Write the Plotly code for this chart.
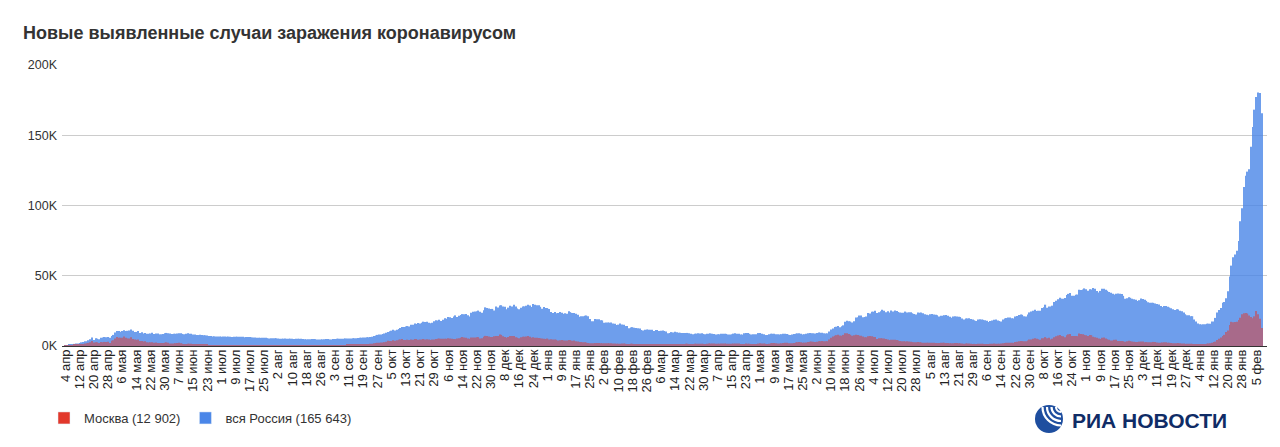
import pandas as pd
import plotly.graph_objects as go

# Новые случаи за сутки, тыс. Ряд начинается 4 апреля 2020, одна строка = один месяц
start_date = "2020-04-04"

russia_2020 = [
    0.6, 0.7, 1.0, 1.2, 1.2, 1.5, 1.8, 1.7, 2.2, 2.6, 2.8, 3.4, 3.4, 4.1, 4.8, 6.1, 4.3, 5.6, 5.2, 4.8, 5.8, 6.0, 6.4, 6.2, 6.4, 5.8, 7.1,
    7.9, 9.6, 10.6, 10.6, 10.1, 10.6, 11.2, 10.7, 10.8, 11.0, 11.7, 10.9, 10.0, 10.0, 10.6, 9.2, 9.7, 8.9, 9.3, 8.8, 8.8, 8.9, 9.4, 8.6, 8.9, 8.9, 8.3, 8.4, 8.6, 9.0, 9.3,
    9.0, 8.9, 8.5, 8.8, 8.7, 8.9, 9.0, 9.0, 8.6, 8.4, 8.8, 9.0, 8.7, 8.8, 8.2, 8.2, 7.8, 7.8, 8.0, 7.9, 7.7, 7.6, 7.4, 7.2, 7.1, 6.8, 6.9, 6.8, 6.7, 6.7,
    6.6, 6.8, 6.7, 6.6, 6.7, 6.6, 6.4, 6.6, 6.5, 6.6, 6.6, 6.6, 6.5, 6.2, 6.4, 6.4, 6.4, 6.2, 6.1, 6.1, 5.8, 5.9, 5.8, 5.8, 5.9, 5.8, 5.6, 5.4, 5.5, 5.5, 5.5,
    5.5, 5.4, 5.2, 5.2, 5.2, 5.3, 5.2, 5.2, 5.2, 5.1, 4.9, 5.1, 5.1, 5.1, 5.1, 5.0, 4.8, 4.7, 4.8, 4.8, 4.9, 4.9, 4.9, 4.7, 4.7, 4.7, 4.7, 4.8, 5.0, 4.9, 4.7,
    4.7, 5.0, 5.0, 5.1, 5.2, 5.2, 5.2, 5.1, 5.4, 5.4, 5.4, 5.4, 5.5, 5.5, 5.6, 5.7, 5.8, 5.9, 6.1, 6.1, 6.2, 6.2, 6.4, 6.6, 7.2, 7.5, 7.9, 8.1, 8.2, 8.5,
    8.9, 9.4, 9.9, 10.5, 10.9, 11.6, 11.1, 11.5, 12.1, 12.8, 13.6, 13.6, 13.9, 14.2, 13.8, 15.2, 15.1, 16.0, 15.7, 16.3, 16.0, 16.5, 17.3, 17.0, 17.3, 16.6, 16.2, 16.6, 17.7, 18.3, 18.1,
    18.7, 17.8, 18.6, 19.8, 19.4, 20.6, 20.5, 19.9, 21.0, 21.8, 20.6, 21.6, 22.0, 22.7, 22.6, 22.8, 21.8, 21.0, 23.6, 24.3, 24.6, 24.8, 25.2, 24.3, 23.7, 25.5, 27.5, 27.1, 26.7, 26.3,
    26.4, 25.3, 28.1, 27.4, 28.8, 29.0, 28.1, 27.9, 26.1, 27.3, 28.6, 28.1, 29.4, 28.1, 26.7, 26.2, 27.2, 28.2, 28.2, 28.6, 29.4, 28.9, 27.8, 29.9, 29.3, 29.0, 29.0, 27.9, 26.5, 27.7, 27.0,
]
russia_2021 = [
    27.0, 26.3, 24.2, 23.4, 24.2, 23.3, 23.5, 24.2, 23.7, 22.9, 23.3, 22.9, 24.8, 24.1, 23.5, 23.5, 22.9, 22.3, 20.8, 21.2, 21.1, 21.5, 21.7, 21.1, 19.3, 17.7, 17.6, 19.2, 19.0, 19.1, 18.4,
    18.2, 16.6, 16.7, 16.7, 16.6, 16.7, 16.0, 15.9, 14.9, 15.2, 16.1, 15.3, 15.1, 14.2, 14.2, 12.7, 13.2, 13.4, 13.0, 12.8, 12.6, 12.4, 11.4, 11.0, 11.5, 11.7, 11.6, 11.5,
    11.6, 10.6, 11.4, 11.4, 10.6, 10.9, 11.0, 10.7, 10.4, 9.1, 9.3, 9.9, 9.6, 10.2, 9.7, 9.4, 9.4, 9.2, 9.2, 9.3, 9.3, 9.0, 8.7, 8.3, 8.7, 8.8, 9.1, 8.9, 9.0, 8.6, 8.3,
    8.8, 8.8, 9.0, 8.7, 8.6, 8.2, 8.3, 8.3, 8.7, 8.8, 8.7, 8.6, 8.1, 8.2, 8.3, 8.8, 9.0, 8.7, 8.7, 8.2, 8.1, 9.0, 9.3, 9.3, 8.7, 8.1, 8.3, 8.3, 8.4, 9.2,
    9.3, 8.7, 8.4, 7.8, 7.8, 8.3, 8.7, 8.7, 8.8, 8.4, 8.3, 8.1, 8.4, 8.8, 8.8, 8.5, 8.1, 7.9, 8.2, 8.5, 8.8, 9.0, 9.0, 8.8, 8.2, 8.4, 8.7, 9.0, 9.3, 9.1, 9.1,
    8.9, 9.3, 9.6, 9.4, 9.4, 9.1, 8.9, 9.0, 10.4, 11.7, 12.5, 13.5, 13.7, 14.2, 13.4, 14.1, 14.7, 17.3, 17.9, 17.6, 17.4, 16.7, 17.6, 20.2, 20.4, 21.7, 21.7, 20.5, 20.6, 21.0,
    23.5, 23.2, 24.4, 24.4, 25.1, 23.4, 24.0, 24.8, 25.8, 25.1, 24.1, 24.7, 23.8, 25.2, 24.5, 25.3, 25.0, 24.2, 23.8, 23.6, 23.7, 24.5, 23.9, 24.1, 24.1, 23.3, 22.8, 22.4, 23.8, 23.6, 23.8,
    23.3, 22.6, 22.2, 21.9, 22.6, 22.8, 22.4, 22.2, 21.9, 21.0, 21.6, 21.6, 21.9, 22.0, 21.6, 20.8, 20.1, 21.0, 21.1, 21.0, 20.8, 20.6, 19.6, 18.8, 19.5, 19.6, 19.7, 19.3, 18.9, 18.3, 17.8,
    18.8, 19.0, 18.9, 18.6, 18.3, 17.9, 17.1, 17.8, 18.2, 18.6, 18.8, 18.2, 17.8, 17.5, 18.8, 19.6, 19.9, 20.2, 20.3, 19.7, 19.6, 21.0, 21.4, 22.1, 22.4, 22.2, 21.2, 21.0, 22.4, 23.9,
    24.5, 25.1, 25.8, 24.9, 25.1, 25.1, 27.0, 27.6, 29.4, 27.2, 28.2, 28.2, 28.7, 31.3, 32.2, 33.2, 34.3, 33.7, 33.7, 34.1, 36.3, 37.1, 37.7, 35.7, 35.7, 36.4, 36.6, 40.1, 39.8, 40.3, 41.0,
    40.4, 39.4, 40.4, 40.2, 41.3, 40.7, 39.2, 38.1, 39.2, 40.8, 40.8, 40.1, 39.3, 38.4, 37.9, 37.1, 36.6, 37.2, 37.4, 37.1, 37.0, 35.7, 33.6, 33.9, 34.7, 34.3, 33.6, 33.2, 32.9, 32.1,
    32.6, 33.8, 33.4, 32.9, 32.1, 31.1, 30.8, 30.8, 30.7, 30.2, 29.9, 29.6, 28.5, 27.7, 28.4, 28.5, 28.0, 27.4, 26.8, 26.2, 25.6, 26.2, 26.0, 25.1, 24.7, 23.9, 22.6, 21.9, 21.9, 21.1, 21.2,
]
russia_2022 = [
    18.9, 17.5, 16.1, 15.4, 15.3, 15.4, 15.4, 15.8, 15.9, 15.9, 17.5, 17.5, 20.0, 23.8, 25.7, 27.0, 30.7, 31.3, 33.9, 38.9, 49.5, 57.2, 63.2, 65.1, 67.8, 74.7, 88.8, 98.0, 113.1, 121.2, 124.1,
    125.8, 141.9, 155.8, 168.2, 177.3, 180.5, 180.1, 165.6,
]

moscow_2020 = [
    0.5, 0.5, 0.7, 0.7, 0.7, 1.0, 1.1, 1.1, 1.4, 1.4, 1.5, 1.8, 1.9, 2.2, 2.6, 3.6, 2.5, 2.7, 2.6, 2.2, 2.8, 2.7, 2.9, 2.9, 3.1, 2.2, 3.7,
    4.1, 5.4, 6.4, 5.8, 5.9, 5.9, 6.7, 5.8, 5.4, 5.4, 6.2, 5.0, 4.7, 4.4, 4.7, 3.5, 3.5, 3.2, 3.3, 2.6, 2.5, 2.6, 2.6, 2.3, 2.5, 2.1, 2.1, 2.1, 2.1, 2.3, 2.6,
    2.3, 1.8, 1.7, 1.8, 2.0, 2.2, 2.3, 2.0, 1.6, 1.2, 1.2, 1.6, 1.6, 1.6, 1.3, 1.1, 1.0, 1.0, 1.1, 1.0, 1.0, 0.9, 0.8, 0.7, 0.7, 0.6, 0.7, 0.7, 0.7, 0.7,
    0.7, 0.7, 0.7, 0.7, 0.7, 0.7, 0.6, 0.6, 0.6, 0.6, 0.7, 0.7, 0.7, 0.6, 0.6, 0.6, 0.6, 0.6, 0.6, 0.7, 0.6, 0.6, 0.6, 0.7, 0.7, 0.7, 0.6, 0.6, 0.6, 0.7, 0.7,
    0.7, 0.7, 0.7, 0.6, 0.6, 0.7, 0.7, 0.7, 0.7, 0.7, 0.6, 0.6, 0.6, 0.6, 0.7, 0.7, 0.7, 0.6, 0.6, 0.6, 0.6, 0.7, 0.7, 0.7, 0.6, 0.6, 0.6, 0.6, 0.7, 0.7, 0.7,
    0.7, 0.7, 0.7, 0.7, 0.7, 0.7, 0.7, 0.7, 0.7, 0.8, 0.8, 0.8, 0.9, 0.9, 0.9, 1.0, 1.0, 1.1, 1.2, 1.3, 1.4, 1.4, 1.6, 1.6, 2.0, 2.2, 2.3, 2.4, 2.5, 2.5,
    2.7, 3.0, 3.7, 3.5, 3.5, 4.1, 3.7, 4.1, 4.4, 4.6, 4.9, 4.2, 4.2, 4.5, 4.2, 4.6, 4.5, 4.9, 5.0, 4.5, 4.6, 4.6, 5.0, 4.6, 4.8, 4.6, 4.3, 4.6, 4.6, 5.0, 5.2,
    5.3, 5.1, 5.2, 5.1, 5.1, 5.5, 5.3, 5.2, 5.0, 4.9, 5.3, 5.6, 5.9, 6.4, 6.0, 5.9, 5.3, 5.1, 6.0, 6.1, 6.1, 6.3, 6.3, 5.3, 5.5, 6.5, 7.2, 7.2, 6.7, 6.4,
    6.4, 6.9, 7.2, 7.2, 8.2, 7.9, 6.9, 6.4, 5.9, 6.4, 7.2, 7.2, 7.1, 6.2, 5.9, 5.5, 6.2, 6.5, 6.6, 6.8, 7.2, 6.5, 5.9, 6.3, 5.9, 5.9, 5.7, 5.5, 5.3, 5.2, 5.0,
]
moscow_2021 = [
    5.3, 4.7, 4.8, 4.7, 4.6, 4.4, 3.9, 4.1, 4.2, 4.0, 3.9, 3.9, 4.3, 4.2, 3.8, 3.9, 3.4, 3.2, 2.9, 2.8, 2.7, 2.6, 2.4, 2.1, 2.0, 1.9, 1.9, 2.1, 2.1, 2.1, 1.9,
    1.9, 1.9, 1.9, 1.9, 1.9, 1.9, 1.8, 1.7, 1.6, 1.6, 1.6, 1.7, 1.8, 1.6, 1.5, 1.5, 1.6, 1.6, 1.5, 1.4, 1.5, 1.4, 1.3, 1.3, 1.5, 1.4, 1.4, 1.3,
    1.4, 1.4, 1.4, 1.4, 1.5, 1.4, 1.4, 1.3, 1.3, 1.1, 1.1, 1.3, 1.3, 1.3, 1.4, 1.4, 1.4, 1.5, 1.5, 1.6, 1.6, 1.5, 1.4, 1.4, 1.6, 1.6, 1.6, 1.6, 1.6, 1.5, 1.5,
    1.6, 1.7, 1.7, 1.7, 1.7, 1.6, 1.6, 1.6, 1.7, 1.7, 1.7, 1.6, 1.6, 1.6, 1.6, 1.7, 1.8, 1.7, 1.7, 1.5, 1.4, 1.5, 1.7, 1.6, 1.6, 1.5, 1.4, 1.4, 1.5, 1.7,
    1.9, 1.8, 1.7, 1.6, 1.5, 1.6, 1.9, 2.1, 2.1, 1.9, 1.8, 1.7, 1.9, 2.1, 2.3, 2.3, 2.0, 1.9, 2.0, 2.2, 2.5, 2.7, 2.8, 2.6, 2.3, 2.4, 2.5, 2.8, 3.0, 3.2, 3.0,
    2.9, 3.0, 3.3, 3.4, 3.6, 3.4, 3.3, 3.4, 4.6, 5.8, 6.7, 7.3, 7.7, 8.0, 7.4, 7.3, 7.9, 9.1, 9.1, 8.6, 8.0, 7.3, 7.6, 8.0, 7.9, 7.4, 7.3, 6.7, 6.3, 6.2,
    7.0, 7.2, 6.9, 6.5, 6.4, 5.0, 5.5, 5.5, 5.4, 5.3, 5.0, 4.6, 4.2, 4.4, 4.4, 4.5, 4.2, 3.9, 3.6, 3.4, 3.4, 3.2, 3.4, 3.2, 3.0, 2.8, 2.7, 2.7, 2.8, 2.7, 2.5,
    2.4, 2.4, 2.4, 2.3, 2.4, 2.4, 2.4, 2.2, 2.1, 2.1, 2.3, 2.3, 2.3, 2.2, 2.1, 2.0, 1.9, 2.0, 2.1, 2.1, 2.0, 1.9, 1.7, 1.6, 1.7, 1.8, 1.7, 1.6, 1.5, 1.5, 1.5,
    1.6, 1.6, 1.6, 1.5, 1.5, 1.4, 1.4, 1.6, 1.6, 1.7, 1.6, 1.6, 1.6, 1.7, 2.0, 2.2, 2.3, 2.4, 2.4, 2.3, 2.2, 2.8, 3.0, 3.4, 3.6, 3.5, 3.3, 3.3, 4.0, 4.6,
    4.7, 5.1, 5.6, 5.2, 4.8, 4.5, 5.5, 5.5, 6.3, 5.6, 5.8, 4.7, 5.2, 6.3, 7.0, 7.5, 7.9, 7.1, 6.9, 6.2, 7.7, 8.3, 8.6, 7.2, 7.2, 7.2, 7.0, 8.9, 8.6, 8.4, 7.9,
    7.6, 7.1, 7.8, 7.7, 6.5, 6.3, 5.9, 5.3, 5.0, 5.8, 6.0, 5.3, 4.8, 4.5, 4.0, 3.9, 4.4, 4.5, 3.6, 3.5, 3.6, 3.4, 3.1, 3.4, 3.7, 3.5, 3.2, 3.1, 2.8, 2.8,
    3.1, 3.2, 3.2, 2.7, 2.8, 2.7, 2.7, 2.6, 2.9, 2.8, 2.5, 2.4, 2.3, 2.5, 2.6, 2.6, 2.4, 2.3, 2.2, 2.0, 1.9, 2.0, 2.1, 2.0, 1.8, 1.7, 1.5, 1.6, 1.6, 1.6, 1.5,
]
moscow_2022 = [
    1.3, 1.2, 1.2, 1.2, 1.3, 1.4, 1.5, 1.6, 1.8, 2.0, 2.3, 2.8, 3.1, 4.2, 5.2, 6.1, 7.2, 7.9, 10.0, 11.1, 14.9, 17.2, 16.9, 17.0, 17.3, 18.5, 20.1, 22.6, 23.3, 23.5, 23.1,
    21.7, 20.6, 19.8, 21.1, 24.9, 22.6, 19.4, 12.9,
]

series_names = ["Москва (12 902)", "вся Россия (165 643)"]
series_colors = ["#e2382b", "#4a86e8"]
month_names = ["янв", "фев", "мар", "апр", "мая", "июн",
               "июл", "авг", "сен", "окт", "ноя", "дек"]
y_ticks = [0, 50, 100, 150, 200]
y_tick_text = ["0K", "50K", "100K", "150K", "200K"]

russia = russia_2020 + russia_2021 + russia_2022
moscow = moscow_2020 + moscow_2021 + moscow_2022
assert len(russia) == len(moscow) == 676

dates = pd.date_range(start_date, periods=len(russia), freq="D")
tick_dates = dates[::8]
tick_text = [f"{d.day} {month_names[d.month - 1]}" for d in tick_dates]

# the page body has an 8px margin, so the figure is drawn 8px in from the window
OFF = 8
W, H = 1280 - OFF, 447 - OFF
# plot area in window pixels
PL, PR, PT, PB = 62, 1267, 65, 346


def px(x):
    return (x - PL) / (PR - PL)


def py(y):
    return (PB - y) / (PB - PT)


fig = go.Figure()
# thin daily bars look lighter in the original, so the blue is a bit transparent
fig.add_trace(go.Bar(x=dates, y=russia, marker_color=series_colors[1],
                     marker_line_width=0, opacity=0.8, showlegend=False))
fig.add_trace(go.Bar(x=dates, y=moscow, marker_color=series_colors[0],
                     marker_line_width=0, opacity=0.5, showlegend=False))
# legend entries with solid colours
for name, color in zip(series_names, series_colors):
    fig.add_trace(go.Bar(x=[None], y=[None], name=name, marker_color=color))

# logo: globe + text
shapes = [dict(type="circle", xref="paper", yref="paper",
               x0=px(1035), x1=px(1063), y0=py(433), y1=py(405),
               fillcolor="#1e4e9f", line_width=0)]
cx, cy, k = 1061, 407, 0.5523
for r in [5, 9.5, 14, 18.5]:
    path = (f"M{px(cx - r)},{py(cy)} "
            f"C{px(cx - r)},{py(cy + k * r)} {px(cx - k * r)},{py(cy + r)} {px(cx)},{py(cy + r)}")
    shapes.append(dict(type="path", xref="paper", yref="paper", path=path,
                       line=dict(color="white", width=2.2)))

fig.update_layout(
    width=W,
    height=H,
    margin=dict(l=PL - OFF, r=1280 - PR, t=PT - OFF, b=447 - PB),
    paper_bgcolor="white",
    plot_bgcolor="white",
    barmode="overlay",
    bargap=0.3,
    font=dict(family="Liberation Sans, Arial, sans-serif", color="#333333"),
    xaxis=dict(
        type="date",
        range=[dates[0] - pd.Timedelta(days=2), dates[-1] + pd.Timedelta(days=3)],
        tickvals=tick_dates,
        ticktext=tick_text,
        tickangle=-90,
        tickfont=dict(size=13, color="#222222"),
        showgrid=False,
        ticks="",
    ),
    yaxis=dict(
        range=[0, 200],
        tickvals=y_ticks,
        ticktext=y_tick_text,
        tickfont=dict(size=12.5, color="#333333"),
        ticklabelstandoff=4,
        gridcolor="#cccccc",
        gridwidth=1,
        zeroline=True,
        zerolinecolor="#333333",
        zerolinewidth=1,
        ticks="",
    ),
    legend=dict(orientation="h", x=px(44), xanchor="left",
                y=py(418), yanchor="middle",
                font=dict(size=13, color="#333333")),
    shapes=shapes,
    annotations=[
        dict(text="<b>Новые выявленные случаи заражения коронавирусом</b>",
             xref="paper", yref="paper", x=px(21), xanchor="left",
             y=py(33), yanchor="middle", showarrow=False,
             font=dict(size=18, color="#333333")),
        dict(text="<b>РИА НОВОСТИ</b>", xref="paper", yref="paper",
             x=px(1070), xanchor="left", y=py(420), yanchor="middle",
             showarrow=False,
             font=dict(size=21, color="#102c66")),
    ],
)

fig.write_html("out.html")
